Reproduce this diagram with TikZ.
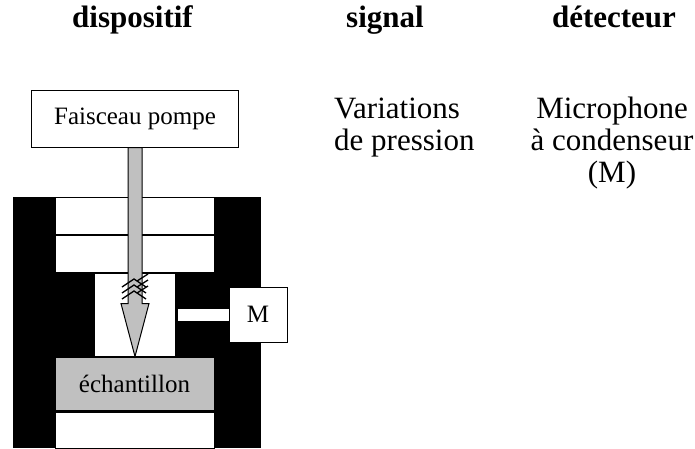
\documentclass[tikz,border=0pt]{standalone}
\usepackage{fontspec}
\setmainfont{Liberation Serif}
\usetikzlibrary{positioning}
\definecolor{gris}{RGB}{192,192,192}
\tikzstyle{bloc} = [rectangle, draw=black, fill=white, line width=1pt, inner sep=0pt, text centered]
\tikzstyle{titre} = [font=\fontsize{31}{32}\selectfont\bfseries, inner sep=0pt]
\tikzstyle{texte} = [font=\fontsize{31}{32}\selectfont, inner sep=0pt]
\tikzstyle{petit} = [font=\fontsize{25}{28}\selectfont]
\tikzstyle{faisceau} = [draw=black, fill=gris, line width=1pt, line join=miter]
\tikzstyle{onde} = [line width=1.3pt]
\tikzstyle{canal} = [white, line width=12pt]

\begin{document}
\begin{tikzpicture}[x=1pt,y=-1pt]
			\useasboundingbox (0,0) rectangle (695,448);
			% en-tetes
			\node (disp) [titre,anchor=base] at (132.5,27) {dispositif};
			\node (sig) [titre,anchor=base] at (385,27) {signal};
			\node (det) [titre,anchor=base] at (614,27) {détecteur};
			% colonnes
			\node (var) [texte,anchor=base west,align=left] at (334,150) {Variations\\de pression};
			\node (mic) [texte,anchor=base,align=center] at (612,182) {Microphone\\à condenseur\\(M)};
			% dispositif
			\node (pompe) [bloc,petit,minimum width=207pt,minimum height=57pt] at (135,118.5) {Faisceau pompe};
			\fill (13,197) rectangle (261,448);
			\node (haut1) [bloc,minimum width=159pt,minimum height=37pt] at (134.5,215.5) {};
			\node (haut2) [bloc,minimum width=159pt,minimum height=37pt,below=0pt of haut1] {};
			\node (cellule) [bloc,minimum width=81pt,minimum height=83pt] at (135,314.5) {};
			\node (echant) [bloc,petit,fill=gris,minimum width=159pt,minimum height=53pt] at (134.5,383.5) {échantillon};
			\node (bas) [bloc,minimum width=159pt,minimum height=36pt] at (134.5,430) {};
			\node (micro) [bloc,petit,minimum width=58pt,minimum height=55pt] at (258,314.5) {M};

			\draw [canal,shorten <=2pt] (cellule) -- (micro);
			\draw [faisceau] (pompe.south) ++(-7,0) -- ++(0,156) -- ++(-7,0) -- (cellule.south) -- ++(14,-53) -- ++(-7,0) -- ++(0,-156) -- cycle;
			\foreach \i in {0,1,2} {
				\draw [onde] (122,287+6*\i) -- (134,279+6*\i) -- (146,287+6*\i);
				\draw [onde] (137,281+6*\i) -- (148,274+6*\i);
			}
\end{tikzpicture}
\end{document}
